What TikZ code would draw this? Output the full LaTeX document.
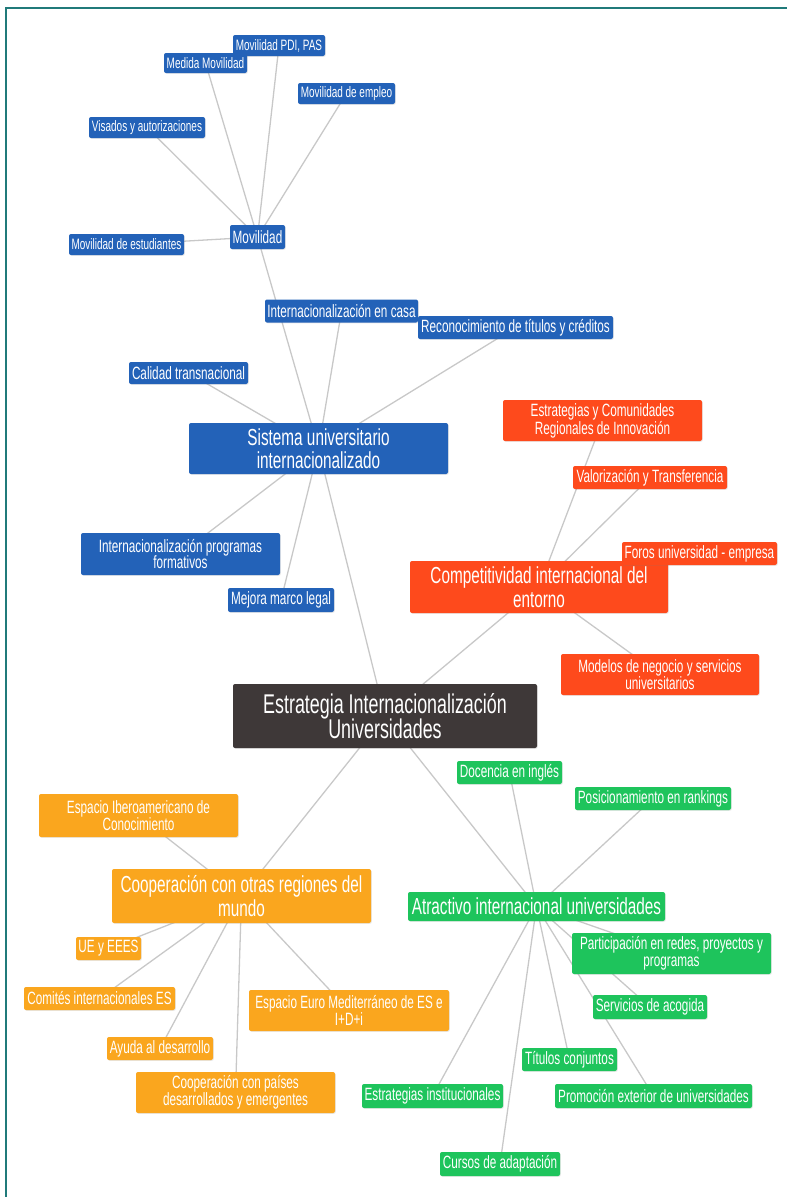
\documentclass[tikz,border=0pt]{standalone}
\usepackage{fontspec}
\setmainfont{Liberation Sans}[FakeStretch=0.66]
\usetikzlibrary{shadows}

\definecolor{mapblue}{RGB}{35,98,184}
\definecolor{mapred}{RGB}{254,74,28}
\definecolor{maporange}{RGB}{250,166,30}
\definecolor{mapgreen}{RGB}{30,196,92}
\definecolor{mapdark}{RGB}{62,56,56}
\definecolor{mapline}{RGB}{200,200,200}
\definecolor{mapframe}{RGB}{32,122,122}

\pgfdeclarelayer{bg}
\pgfsetlayers{bg,main}

\begin{document}
\begin{tikzpicture}[x=1pt,y=1pt,yscale=-1,xscale=1,
  box/.style={rectangle, rounded corners=2pt, inner sep=0pt, align=center, text=white,
    drop shadow={opacity=0.18, shadow xshift=0.8pt, shadow yshift=-0.8pt}},
  bluebox/.style={box, fill=mapblue},
  redbox/.style={box, fill=mapred},
  orangebox/.style={box, fill=maporange},
  greenbox/.style={box, fill=mapgreen},
  rootbox/.style={box, fill=mapdark},
  szroot/.style={font=\fontsize{27.1}{25.7}\selectfont},
  szmain/.style={font=\fontsize{23.2}{23.5}\selectfont},
  szsub/.style={font=\fontsize{17.8}{16.8}\selectfont},
  szleaf/.style={font=\fontsize{15.1}{15}\selectfont},
  link/.style={draw=mapline, line width=1.3pt}]
\useasboundingbox (0,0) rectangle (787,1197);

%Frame
\draw [mapframe, line width=2.2pt] (6.3,1197) -- (6.3,7.6) -- (787,7.6) ;

% Root
\node [rootbox, szroot, minimum width=304, minimum height=64] (root) at (385,716) {Estrategia Internacionalización\\Universidades};

% Sistema universitario (blue)
\node [bluebox, szmain, minimum width=259, minimum height=51] (sistema) at (318.5,448.5) {Sistema universitario\\internacionalizado};
\node [bluebox, szsub, minimum width=55, minimum height=24] (movilidad) at (257.5,237) {Movilidad};
\node [bluebox, szleaf, minimum width=92, minimum height=21] (movpdi) at (279,45.5) {Movilidad PDI, PAS};
\node [bluebox, szleaf, minimum width=83, minimum height=20] (medida) at (205.5,63) {Medida Movilidad};
\node [bluebox, szleaf, minimum width=97, minimum height=21] (empleo) at (346.5,93.5) {Movilidad de empleo};
\node [bluebox, szleaf, minimum width=116, minimum height=21] (visados) at (147,127.5) {Visados y autorizaciones};
\node [bluebox, szleaf, minimum width=115, minimum height=21] (estudiantes) at (126.5,244.5) {Movilidad de estudiantes};
\node [bluebox, szsub, minimum width=153, minimum height=23] (encasa) at (341.5,311) {Internacionalización en casa};
\node [bluebox, szsub, minimum width=195, minimum height=23] (reconoc) at (515.5,327.5) {Reconocimiento de títulos y créditos};
\node [bluebox, szsub, minimum width=119, minimum height=22] (calidad) at (188.5,373) {Calidad transnacional};
\node [bluebox, szsub, minimum width=199, minimum height=42] (programas) at (180.5,554) {Internacionalización programas\\formativos};
\node [bluebox, szsub, minimum width=106, minimum height=24] (mejora) at (281,600) {Mejora marco legal};

% Competitividad (red)
\node [redbox, szmain, minimum width=258, minimum height=52] (compet) at (539,587) {Competitividad internacional del\\entorno};
\node [redbox, szsub, minimum width=199, minimum height=41] (comunid) at (602.5,420.5) {Estrategias y Comunidades\\Regionales de Innovación};
\node [redbox, szsub, minimum width=154, minimum height=23] (valoriz) at (650,477.5) {Valorización y Transferencia};
\node [redbox, szsub, minimum width=155, minimum height=23] (foros) at (699.5,553.5) {Foros universidad - empresa};
\node [redbox, szsub, minimum width=198, minimum height=41] (modelos) at (660,674.5) {Modelos de negocio y servicios\\universitarios};

% Cooperacion (orange)
\node [orangebox, szmain, minimum width=259, minimum height=54] (coop) at (241.5,896) {Cooperación con otras regiones del\\mundo};
\node [orangebox, szsub, minimum width=199, minimum height=43] (ibero) at (138.5,815.5) {Espacio Iberoamericano de\\Conocimiento};
\node [orangebox, szsub, minimum width=65, minimum height=23] (ueees) at (108.5,948.5) {UE y EEES};
\node [orangebox, szsub, minimum width=151, minimum height=23] (comites) at (99.5,998.5) {Comités internacionales ES};
\node [orangebox, szsub, minimum width=200, minimum height=41] (euromed) at (349,1010.5) {Espacio Euro Mediterráneo de ES e\\I+D+i};
\node [orangebox, szsub, minimum width=106, minimum height=23] (ayuda) at (160,1048.5) {Ayuda al desarrollo};
\node [orangebox, szsub, minimum width=199, minimum height=41] (paises) at (235.5,1092.5) {Cooperación con países\\desarrollados y emergentes};

% Atractivo (green)
\node [greenbox, szmain, minimum width=257, minimum height=29] (atract) at (536.5,906.5) {Atractivo internacional universidades};
\node [greenbox, szsub, minimum width=105, minimum height=23] (docencia) at (509.5,772.5) {Docencia en inglés};
\node [greenbox, szsub, minimum width=156, minimum height=23] (rankings) at (653,798.5) {Posicionamiento en rankings};
\node [greenbox, szsub, minimum width=199, minimum height=41] (redes) at (671.5,953.5) {Participación en redes, proyectos y\\programas};
\node [greenbox, szsub, minimum width=114, minimum height=24] (acogida) at (650,1007) {Servicios de acogida};
\node [greenbox, szsub, minimum width=95, minimum height=23] (titulos) at (569.5,1059.5) {Títulos conjuntos};
\node [greenbox, szsub, minimum width=141, minimum height=24] (instit) at (432.5,1096) {Estrategias institucionales};
\node [greenbox, szsub, minimum width=197, minimum height=24] (promocion) at (653.5,1096) {Promoción exterior de universidades};
\node [greenbox, szsub, minimum width=120, minimum height=24] (cursos) at (500,1164) {Cursos de adaptación};

% Connectors
\begin{pgfonlayer}{bg}
\foreach \a/\b in {root/sistema, root/compet, root/coop, root/atract,
    sistema/movilidad, sistema/encasa, sistema/reconoc, sistema/calidad, sistema/programas, sistema/mejora,
    movilidad/movpdi, movilidad/medida, movilidad/empleo, movilidad/visados, movilidad/estudiantes,
    compet/comunid, compet/valoriz, compet/foros, compet/modelos,
    coop/ibero, coop/ueees, coop/comites, coop/euromed, coop/ayuda, coop/paises,
    atract/docencia, atract/rankings, atract/redes, atract/acogida, atract/titulos, atract/instit, atract/promocion, atract/cursos}
  \draw [link] (\a.center) -- (\b.center);
\end{pgfonlayer}
\end{tikzpicture}
\end{document}
